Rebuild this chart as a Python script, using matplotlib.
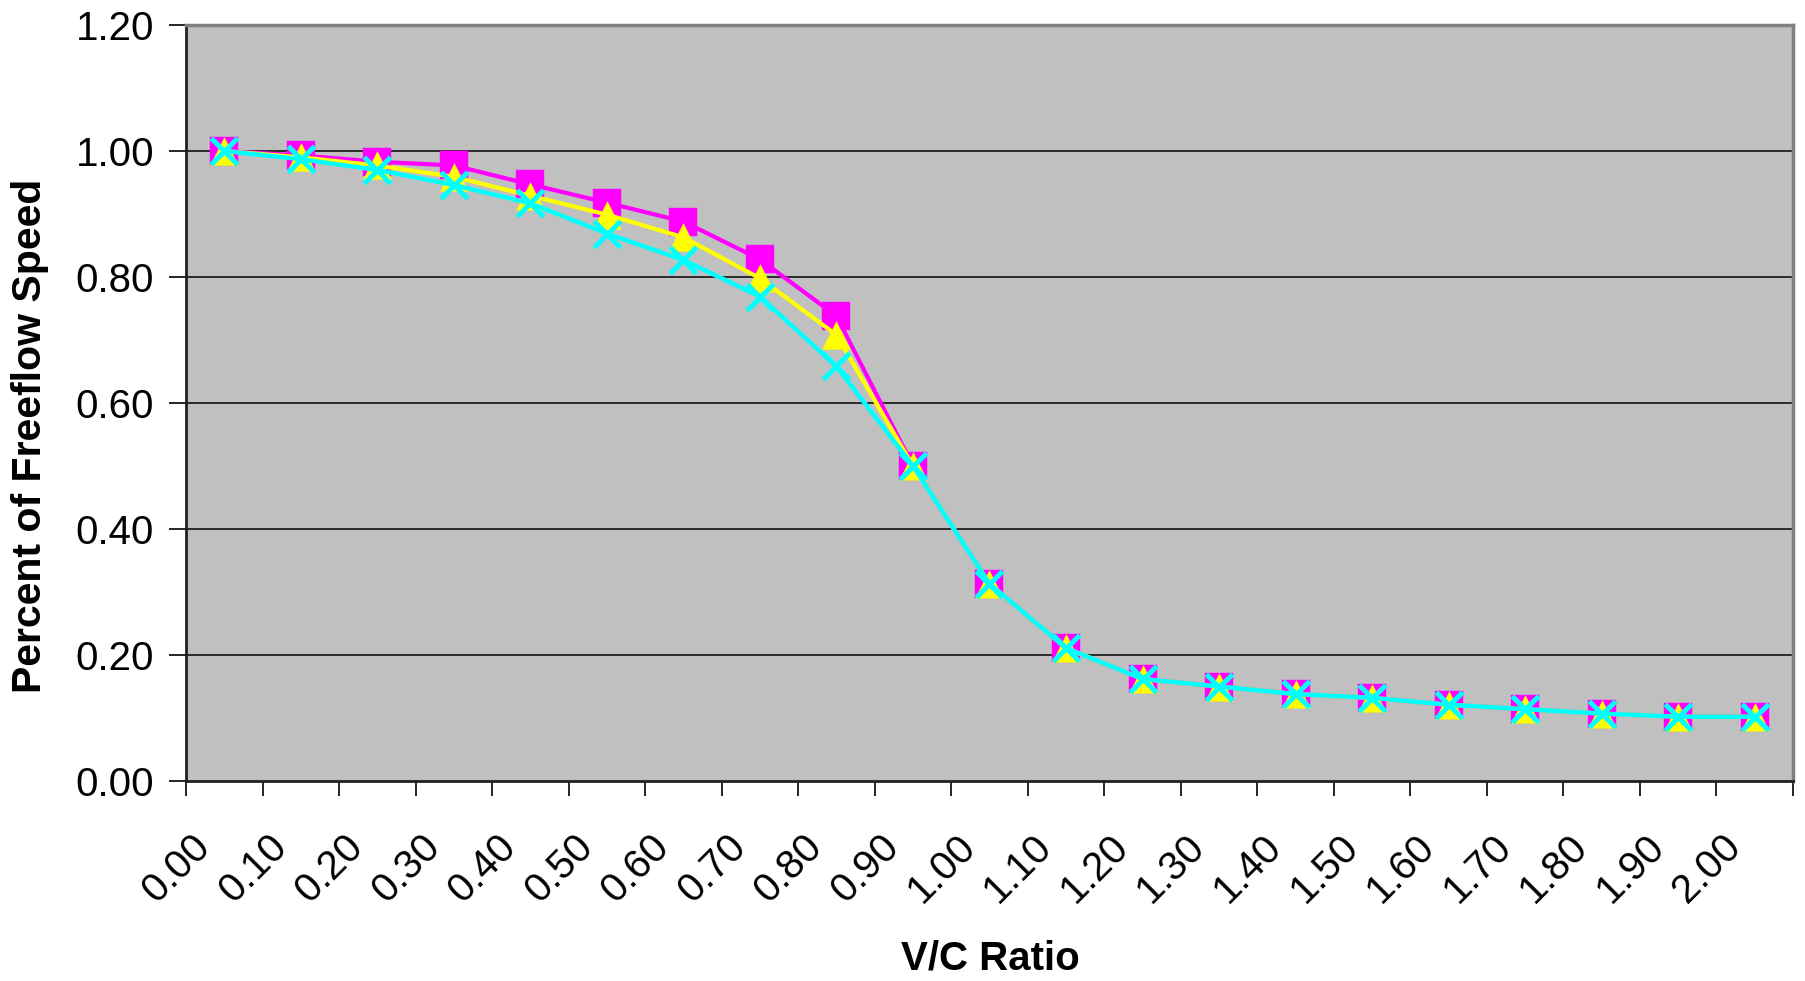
import matplotlib
matplotlib.use("Agg")
import matplotlib.pyplot as plt
from matplotlib.path import Path
from matplotlib.transforms import ScaledTranslation
import numpy as np

categories = ["0.00", "0.10", "0.20", "0.30", "0.40", "0.50", "0.60", "0.70", "0.80", "0.90",
              "1.00", "1.10", "1.20", "1.30", "1.40", "1.50", "1.60", "1.70", "1.80", "1.90", "2.00"]

series_square = [1.00, 0.993, 0.983, 0.977, 0.947, 0.918, 0.888, 0.828, 0.738, 0.50,
                 0.313, 0.211, 0.162, 0.150, 0.138, 0.132, 0.121, 0.114, 0.107, 0.102, 0.102]
series_triangle = [1.00, 0.990, 0.977, 0.959, 0.929, 0.899, 0.863, 0.798, 0.708, 0.50,
                   0.313, 0.211, 0.162, 0.150, 0.138, 0.132, 0.121, 0.114, 0.107, 0.102, 0.102]
series_x = [1.00, 0.987, 0.970, 0.946, 0.917, 0.869, 0.827, 0.769, 0.658, 0.50,
            0.313, 0.211, 0.162, 0.150, 0.138, 0.132, 0.121, 0.114, 0.107, 0.102, 0.102]

y_ticks = [0.0, 0.2, 0.4, 0.6, 0.8, 1.0, 1.2]

plt.rcParams['font.family'] = ['Liberation Sans', 'DejaVu Sans']

fig = plt.figure(figsize=(18.06, 9.81), dpi=100)
ax = fig.add_axes([186/1806, 1-781/981, (1793-186)/1806, (781-25)/981])
ax.set_facecolor('#C0C0C0')

w, h = 1.0, 1.0
rect = Path([(-w, -h), (w, -h), (w, h), (-w, h), (-w, -h)],
            [Path.MOVETO, Path.LINETO, Path.LINETO, Path.LINETO, Path.CLOSEPOLY])
tri = Path([(-w, -h), (w, -h), (0, h), (-w, -h)],
           [Path.MOVETO, Path.LINETO, Path.LINETO, Path.CLOSEPOLY])
xm = Path([(-w, -h), (w, h), (-w, h), (w, -h)],
          [Path.MOVETO, Path.LINETO, Path.MOVETO, Path.LINETO])

xpos = np.arange(len(categories)) + 0.5

for yy in y_ticks[1:]:
    ax.axhline(yy, color='#202020', lw=1.3, zorder=1)

ax.plot(xpos, series_square, color='#FF00FF', lw=3.0, marker=rect, markersize=20,
        markerfacecolor='#FF00FF', markeredgecolor='#FF00FF', markeredgewidth=0.3, zorder=3,
        clip_on=False)
ax.plot(xpos, series_triangle, color='#FFFF00', lw=3.0, marker=tri, markersize=20,
        markerfacecolor='#FFFF00', markeredgecolor='#FFFF00', markeredgewidth=0.3, zorder=4,
        clip_on=False)
ax.plot(xpos, series_x, color='#00FFFF', lw=3.2, marker=xm, markersize=19,
        markerfacecolor='none', markeredgecolor='#00FFFF', markeredgewidth=3.6, zorder=5,
        clip_on=False)

ax.set_xlim(0, len(categories))
ax.set_ylim(0, 1.2)

ax.set_xticks(np.arange(len(categories) + 1))
ax.set_xticklabels([])
ax.set_xticks(xpos, minor=True)
ax.set_xticklabels(categories, minor=True, rotation=45, ha='right', va='center',
                   rotation_mode='anchor', fontsize=29)
ax.tick_params(axis='x', which='major', direction='out', length=11, width=1.2, color='black')
ax.tick_params(axis='x', which='minor', length=0, pad=43)
shift = ScaledTranslation(-20/100, 0, fig.dpi_scale_trans)
for lab in ax.get_xticklabels(minor=True):
    lab.set_transform(lab.get_transform() + shift)

ax.set_yticks(y_ticks)
ax.set_yticklabels([f"{v:.2f}" for v in y_ticks], fontsize=29)
ax.tick_params(axis='y', direction='out', length=12, width=1.2, color='black', pad=11)

for s in ['left', 'bottom']:
    ax.spines[s].set_color('#202020')
    ax.spines[s].set_linewidth(2.0)
for s in ['top', 'right']:
    ax.spines[s].set_color('#808080')
    ax.spines[s].set_linewidth(2.5)

fig.text(990/1806, 1-959/981, "V/C Ratio", ha='center', va='center', fontsize=29,
         fontweight='bold')
fig.text(30/1806, 1-436/981, "Percent of Freeflow Speed", ha='center', va='center',
         rotation=90, fontsize=29.5, fontweight='bold')

fig.savefig("out.png", dpi=100)
